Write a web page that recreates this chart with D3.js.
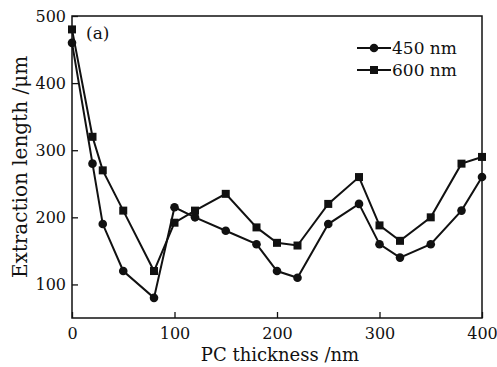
<!DOCTYPE html>
<html>
<head>
<meta charset="utf-8">
<script src="https://cdn.jsdelivr.net/npm/d3@7"></script>
<style>
body { margin: 0; background: #fff; }
text { font-family: "DejaVu Serif", serif; fill: #111; }
</style>
</head>
<body>
<script>
var thickness = [0, 20, 30, 50, 80, 100, 120, 150, 180, 200, 220, 250, 280, 300, 320, 350, 380, 400];
var len450 = [460, 280, 190, 120, 80, 215, 200, 180, 160, 120, 110, 190, 220, 160, 140, 160, 210, 260];
var len600 = [480, 320, 270, 210, 120, 192, 210, 235, 185, 162, 158, 220, 260, 188, 165, 200, 280, 290];
var xTicks = [0, 100, 200, 300, 400];
var yTicks = [100, 200, 300, 400, 500];

var width = 497, height = 367;
var pLeft = 72, pRight = 482, pTop = 16, pBottom = 318;

var svg = d3.select("body").append("svg")
    .attr("width", width)
    .attr("height", height);

var x = d3.scaleLinear().domain([0, 400]).range([pLeft, pRight]);
var y = d3.scaleLinear().domain([50, 500]).range([pBottom, pTop]);

// frame
svg.append("rect")
    .attr("x", pLeft).attr("y", pTop)
    .attr("width", pRight - pLeft).attr("height", pBottom - pTop)
    .attr("fill", "none").attr("stroke", "#111").attr("stroke-width", 1.5);

// x axis, ticks point inward
var xAxis = d3.axisBottom(x).tickValues(xTicks).tickSize(-6).tickPadding(10);
var gx = svg.append("g").attr("transform", "translate(0," + pBottom + ")").call(xAxis);
gx.select(".domain").remove();
gx.selectAll("line").attr("stroke", "#111").attr("stroke-width", 1.3);
gx.selectAll("text").attr("font-size", 16).attr("font-family", "DejaVu Serif");

var yAxis = d3.axisLeft(y).tickValues(yTicks).tickSize(-6).tickPadding(6);
var gy = svg.append("g").attr("transform", "translate(" + pLeft + ",0)").call(yAxis);
gy.select(".domain").remove();
gy.selectAll("line").attr("stroke", "#111").attr("stroke-width", 1.3);
gy.selectAll("text").attr("font-size", 16).attr("font-family", "DejaVu Serif");

var line = d3.line()
    .x(function(d) { return x(d[0]); })
    .y(function(d) { return y(d[1]); });

var d450 = thickness.map(function(t, i) { return [t, len450[i]]; });
var d600 = thickness.map(function(t, i) { return [t, len600[i]]; });

svg.append("path").datum(d450).attr("d", line)
    .attr("fill", "none").attr("stroke", "#111").attr("stroke-width", 2);
svg.append("path").datum(d600).attr("d", line)
    .attr("fill", "none").attr("stroke", "#111").attr("stroke-width", 2);

svg.selectAll("circle.m").data(d450).enter().append("circle")
    .attr("class", "m")
    .attr("cx", function(d) { return x(d[0]); })
    .attr("cy", function(d) { return y(d[1]); })
    .attr("r", 4.3).attr("fill", "#111");

svg.selectAll("rect.m").data(d600).enter().append("rect")
    .attr("class", "m")
    .attr("x", function(d) { return x(d[0]) - 4; })
    .attr("y", function(d) { return y(d[1]) - 4; })
    .attr("width", 8).attr("height", 8).attr("fill", "#111");

// legend
var legend = [["450 nm", "circle"], ["600 nm", "square"]];
legend.forEach(function(l, i) {
    var ly = 48 + i * 22;
    svg.append("line").attr("x1", 357).attr("x2", 391).attr("y1", ly).attr("y2", ly)
        .attr("stroke", "#111").attr("stroke-width", 2);
    if (l[1] == "circle") {
        svg.append("circle").attr("cx", 374).attr("cy", ly).attr("r", 4.3).attr("fill", "#111");
    } else {
        svg.append("rect").attr("x", 370).attr("y", ly - 4).attr("width", 8).attr("height", 8).attr("fill", "#111");
    }
    svg.append("text").attr("x", 392).attr("y", ly + 6).attr("font-size", 17).text(l[0]);
});

svg.append("text").attr("x", 86).attr("y", 39).attr("font-size", 17).text("(a)");

svg.append("text")
    .attr("x", 280).attr("y", 361)
    .attr("text-anchor", "middle").attr("font-size", 18)
    .text("PC thickness /nm");

svg.append("text")
    .attr("transform", "translate(27,167) rotate(-90)")
    .attr("text-anchor", "middle").attr("font-size", 20)
    .text("Extraction length /μm");
</script>
</body>
</html>
